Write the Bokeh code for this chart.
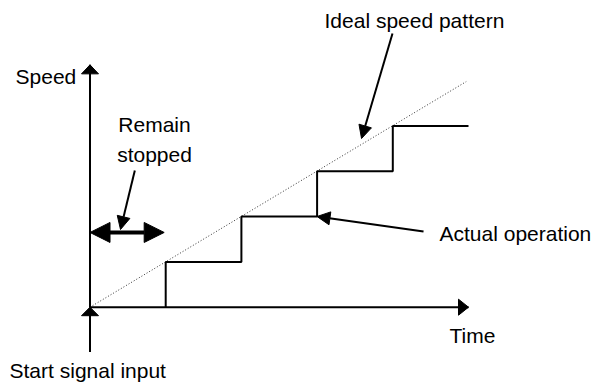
from bokeh.plotting import figure
from bokeh.models import Range1d, Arrow, NormalHead, ColumnDataSource
from bokeh.core.properties import value
from bokeh.embed import file_html
from bokeh.resources import INLINE

# ---- data (time in step units, speed in step levels) ----
step_time = [1, 1, 2, 2, 3, 3, 4, 4, 5.0]
step_speed = [0, 1, 1, 2, 2, 3, 3, 4, 4]
ideal_time = [0, 4.97]
ideal_speed = [0, 4.98]
time_axis_end = 5.0
speed_axis_end = 5.35
start_signal_from = -0.99
remain_stopped_time = [0.0, 0.98]
remain_stopped_level = 1.65

label_text = ["Speed", "Remain", "stopped", "Ideal speed pattern",
              "Actual operation", "Time", "Start signal input"]
label_x = [-0.984, 0.852, 0.852, 3.098, 4.617, 4.749, -1.063]
label_y = [5.093, 4.040, 3.378, 6.318, 1.621, -0.619, -1.397]
label_align = ["left", "center", "center", "left", "left", "left", "left"]

# callouts: (x_start, y_start, x_end, y_end)
callouts = [
    (0.592, 3.018, 0.403, 1.715),   # Remain stopped
    (3.996, 6.042, 3.587, 3.724),   # Ideal speed pattern
    (4.406, 1.671, 2.999, 2.002),   # Actual operation
]

W, H = 595, 384
X0, X1 = -1.18230, 6.67767
Y0, Y1 = -1.70640, 6.77042
XS = W / (X1 - X0)
YS = H / (Y1 - Y0)

p = figure(width=W, height=H, x_range=Range1d(X0, X1), y_range=Range1d(Y0, Y1),
           output_backend="svg", toolbar_location=None, min_border=0,
           x_axis_type=None, y_axis_type=None)
p.grid.visible = False
p.outline_line_color = None
p.background_fill_color = "white"
p.border_fill_color = "white"


def head(tx, ty, dx, dy, length, width):
    bx = tx - dx * length / XS
    by = ty - dy * length / YS
    px, py = -dy, dx
    xs = [tx, bx + px * width / 2 / XS, bx - px * width / 2 / XS]
    ys = [ty, by + py * width / 2 / YS, by - py * width / 2 / YS]
    return xs, ys


# ideal pattern (dotted)
p.line(ideal_time, ideal_speed, line_color="#333333", line_width=1, line_dash="1 2")

# axes
p.line([0, 0], [0, speed_axis_end], line_color="black", line_width=2)
p.line([0, time_axis_end], [0, 0], line_color="black", line_width=2)
p.line([0, 0], [start_signal_from, 0], line_color="black", line_width=2)

heads = [
    head(0, speed_axis_end, 0, 1, 9, 17),
    head(time_axis_end, 0, 1, 0, 10, 16),
    head(0, 0, 0, 1, 8.5, 17),
]
p.patches([h[0] for h in heads], [h[1] for h in heads],
          fill_color="black", line_color="black", line_width=1)

# actual operation steps
p.line(step_time, step_speed, line_color="black", line_width=2)

# remain stopped double arrow
p.add_layout(Arrow(x_start=remain_stopped_time[0], y_start=remain_stopped_level,
                   x_end=remain_stopped_time[1], y_end=remain_stopped_level,
                   start=NormalHead(size=20, fill_color="black", line_color="black"),
                   end=NormalHead(size=20, fill_color="black", line_color="black"),
                   line_width=4, line_color="black"))

for xs_, ys_, xe_, ye_ in callouts:
    p.add_layout(Arrow(x_start=xs_, y_start=ys_, x_end=xe_, y_end=ye_,
                       end=NormalHead(size=13, fill_color="black", line_color="black"),
                       line_width=2, line_color="black"))

src = ColumnDataSource(dict(x=label_x, y=label_y, text=label_text, align=label_align))
p.text(x="x", y="y", text="text", source=src, text_align="align",
       text_baseline="alphabetic", text_font=value("Liberation Sans"),
       text_font_size=value("21px"), text_color="black")

open("out.html", "w").write(file_html(p, INLINE))
